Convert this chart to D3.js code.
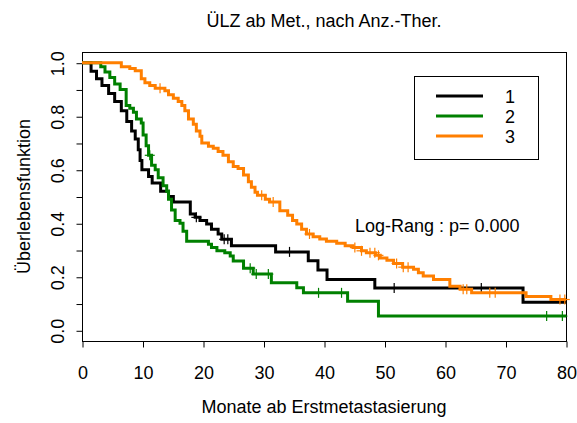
<!DOCTYPE html>
<html>
<head>
<meta charset="utf-8">
<script src="https://cdn.jsdelivr.net/npm/d3@7"></script>
<style>
  html, body { margin: 0; padding: 0; background: #fff; }
  svg text { font-family: "Liberation Sans", Arial, Helvetica, sans-serif; fill: #000; }
</style>
</head>
<body>
<svg id="chart" width="577" height="423"></svg>
<script>
// ---------------- data ----------------
const title = "ÜLZ ab Met., nach Anz.-Ther.";
const xLabel = "Monate ab Erstmetastasierung";
const yLabel = "Überlebensfunktion";
const xTicks = [0, 10, 20, 30, 40, 50, 60, 70, 80];
const yTicks = [0, 0.1, 0.2, 0.3, 0.4, 0.5, 0.6, 0.7, 0.8, 0.9, 1.0];
const yTickLabels = [0, 0.2, 0.4, 0.6, 0.8, 1.0];
const groups = ["1", "2", "3"];
const groupColors = ["#000000", "#008000", "#ff7f00"];
const logRankText = "Log-Rang : p= 0.000";

// group 1 (black)
const times1 = [0, 1.5, 2.4, 3.3, 4.4, 5.4, 6.5, 7.4, 8.2, 8.8, 9.3, 9.6, 9.9, 11.0, 11.6, 13.0, 14.3, 15.1, 17.9, 18.7, 19.5, 20.6, 21.4, 22.5, 23.1, 24.7, 32.0, 37.4, 39.0, 40.5, 48.4, 72.9, 80];
const surv1  = [1, 0.968, 0.94, 0.915, 0.885, 0.855, 0.82, 0.78, 0.745, 0.715, 0.675, 0.635, 0.6, 0.575, 0.55, 0.52, 0.5, 0.479, 0.435, 0.422, 0.41, 0.397, 0.378, 0.36, 0.34, 0.316, 0.293, 0.26, 0.225, 0.19, 0.158, 0.105, 0.105];
const cens1  = [18.9, 23.5, 24.1, 34.3, 51.6, 66.0];

// group 2 (green)
const times2 = [0, 3.1, 3.8, 4.6, 5.4, 6.3, 7.3, 7.9, 8.5, 9.0, 9.8, 10.1, 10.6, 11.0, 11.5, 12.1, 12.6, 13.4, 14.0, 14.3, 14.8, 15.4, 16.2, 16.7, 17.3, 20.9, 21.4, 22.3, 23.6, 24.5, 25.0, 26.7, 28.3, 31.3, 35.5, 36.6, 43.9, 49.0, 80];
const surv2  = [1, 0.985, 0.965, 0.945, 0.92, 0.9, 0.84, 0.83, 0.815, 0.79, 0.775, 0.73, 0.69, 0.654, 0.617, 0.6, 0.57, 0.54, 0.52, 0.49, 0.45, 0.41, 0.4, 0.37, 0.333, 0.322, 0.309, 0.297, 0.29, 0.278, 0.259, 0.232, 0.21, 0.178, 0.159, 0.14, 0.109, 0.053, 0.053];
const cens2  = [11.2, 27.8, 28.8, 30.8, 39.1, 42.9, 76.8, 79.4];

// group 3 (orange)
const times3 = [0, 6.5, 7.9, 8.8, 9.8, 10.4, 11.2, 12.1, 13.7, 14.3, 15.1, 15.9, 16.5, 17.0, 17.6, 18.4, 18.9, 19.5, 19.8, 20.9, 21.7, 22.5, 23.3, 24.2, 25.0, 25.8, 26.7, 27.5, 28.0, 28.6, 29.0, 30.3, 31.0, 32.7, 34.0, 34.8, 35.5, 36.3, 37.1, 38.2, 39.3, 40.4, 42.1, 43.5, 44.8, 46.2, 47.0, 48.5, 49.3, 50.4, 51.5, 53.0, 54.8, 55.6, 56.4, 58.1, 60.8, 62.5, 64.4, 73.4, 77.5, 80];
const surv3  = [1, 0.985, 0.978, 0.97, 0.94, 0.925, 0.915, 0.905, 0.895, 0.88, 0.867, 0.855, 0.84, 0.82, 0.79, 0.77, 0.745, 0.725, 0.7, 0.688, 0.68, 0.668, 0.654, 0.63, 0.612, 0.605, 0.58, 0.555, 0.535, 0.516, 0.505, 0.49, 0.479, 0.447, 0.43, 0.41, 0.397, 0.378, 0.36, 0.35, 0.341, 0.333, 0.325, 0.316, 0.309, 0.297, 0.29, 0.28, 0.27, 0.262, 0.25, 0.236, 0.228, 0.215, 0.203, 0.19, 0.165, 0.153, 0.14, 0.126, 0.115, 0.115];
const cens3  = [12.9, 29.7, 31.6, 37.6, 45.1, 46.2, 47.6, 48.4, 49.0, 52.0, 53.1, 53.9, 63.0, 63.6, 67.4, 68.3, 79.0, 79.8];

const series = [
  {times: times1, surv: surv1, cens: cens1},
  {times: times2, surv: surv2, cens: cens2},
  {times: times3, surv: surv3, cens: cens3}
];

// ---------------- layout ----------------
const FS = 18;
const box = {left: 82, right: 566, top: 52, bottom: 341};
const svg = d3.select("#chart");

const x = d3.scaleLinear().domain([0, 80]).range([box.left, box.right]);
const y = d3.scaleLinear().domain([-0.04, 1.04]).range([box.bottom, box.top]);

// box
svg.append("rect")
  .attr("x", box.left + 0.5).attr("y", box.top + 0.5)
  .attr("width", box.right - box.left).attr("height", box.bottom - box.top)
  .attr("fill", "none").attr("stroke", "#000").attr("stroke-width", 1);

// x axis
const xAxis = svg.append("g")
  .attr("transform", `translate(0.5,${box.bottom + 0.5})`)
  .call(d3.axisBottom(x).tickValues(xTicks).tickSize(6).tickSizeOuter(0).tickFormat(d3.format("d")));
xAxis.select(".domain").remove();
xAxis.selectAll("line").attr("stroke", "#000");
xAxis.selectAll("text")
  .attr("font-size", FS).attr("y", 0).attr("dy", null)
  .attr("transform", "translate(0,37)")
  .style("font-family", "Liberation Sans, Arial, sans-serif");

// y axis
const yAxis = svg.append("g")
  .attr("transform", `translate(${box.left + 0.5},0.5)`)
  .call(d3.axisLeft(y).tickValues(yTicks).tickSize(6).tickSizeOuter(0)
    .tickFormat(d => yTickLabels.some(v => Math.abs(v - d) < 1e-9) ? d3.format(".1f")(d) : ""));
yAxis.select(".domain").attr("stroke", "#000").attr("d", `M0,${y(0)}V${y(1)}`);
yAxis.selectAll("line").attr("stroke", "#000");
yAxis.selectAll(".tick text")
  .attr("font-size", FS).attr("x", null).attr("dy", null).attr("y", null)
  .attr("text-anchor", "middle")
  .attr("transform", "translate(-19,0) rotate(-90)")
  .style("font-family", "Liberation Sans, Arial, sans-serif");

// titles
svg.append("text").attr("x", (box.left + box.right) / 2).attr("y", 27)
  .attr("text-anchor", "middle").attr("font-size", FS).text(title);
svg.append("text").attr("x", (box.left + box.right) / 2).attr("y", 413)
  .attr("text-anchor", "middle").attr("font-size", FS).text(xLabel);
svg.append("text")
  .attr("transform", `translate(30,${(box.top + box.bottom) / 2}) rotate(-90)`)
  .attr("text-anchor", "middle").attr("font-size", FS).text(yLabel);

// curves
const line = d3.line().x(d => x(d[0])).y(d => y(d[1])).curve(d3.curveStepAfter);
function survAt(s, t) {
  let v = s.surv[0];
  for (let i = 0; i < s.times.length; i++) if (s.times[i] <= t) v = s.surv[i];
  return v;
}
series.forEach((s, i) => {
  const pts = s.times.map((t, k) => [t, s.surv[k]]);
  svg.append("path").attr("d", line(pts))
    .attr("fill", "none").attr("stroke", groupColors[i]).attr("stroke-width", 3)
    .attr("stroke-linejoin", "miter");
  const g = svg.append("g").attr("stroke", groupColors[i]).attr("stroke-width", 1.2);
  s.cens.forEach(t => {
    const cx = x(t), cy = y(survAt(s, t));
    g.append("line").attr("x1", cx - 5).attr("x2", cx + 5).attr("y1", cy).attr("y2", cy);
    g.append("line").attr("x1", cx).attr("x2", cx).attr("y1", cy - 5).attr("y2", cy + 5);
  });
});

// log-rank text
svg.append("text").attr("x", 355).attr("y", 232).attr("font-size", FS).text(logRankText);

// legend
svg.append("rect").attr("x", 414.5).attr("y", 76.5).attr("width", 124).attr("height", 83)
  .attr("fill", "#fff").attr("stroke", "#000").attr("stroke-width", 1);
const legY = d3.scalePoint().domain(groups).range([96, 136]);
groups.forEach((gname, i) => {
  svg.append("line").attr("x1", 436).attr("x2", 483).attr("y1", legY(gname)).attr("y2", legY(gname))
    .attr("stroke", groupColors[i]).attr("stroke-width", 3);
  svg.append("text").attr("x", 505).attr("y", legY(gname) + 6.5).attr("font-size", FS).text(gname);
});
</script>
</body>
</html>
